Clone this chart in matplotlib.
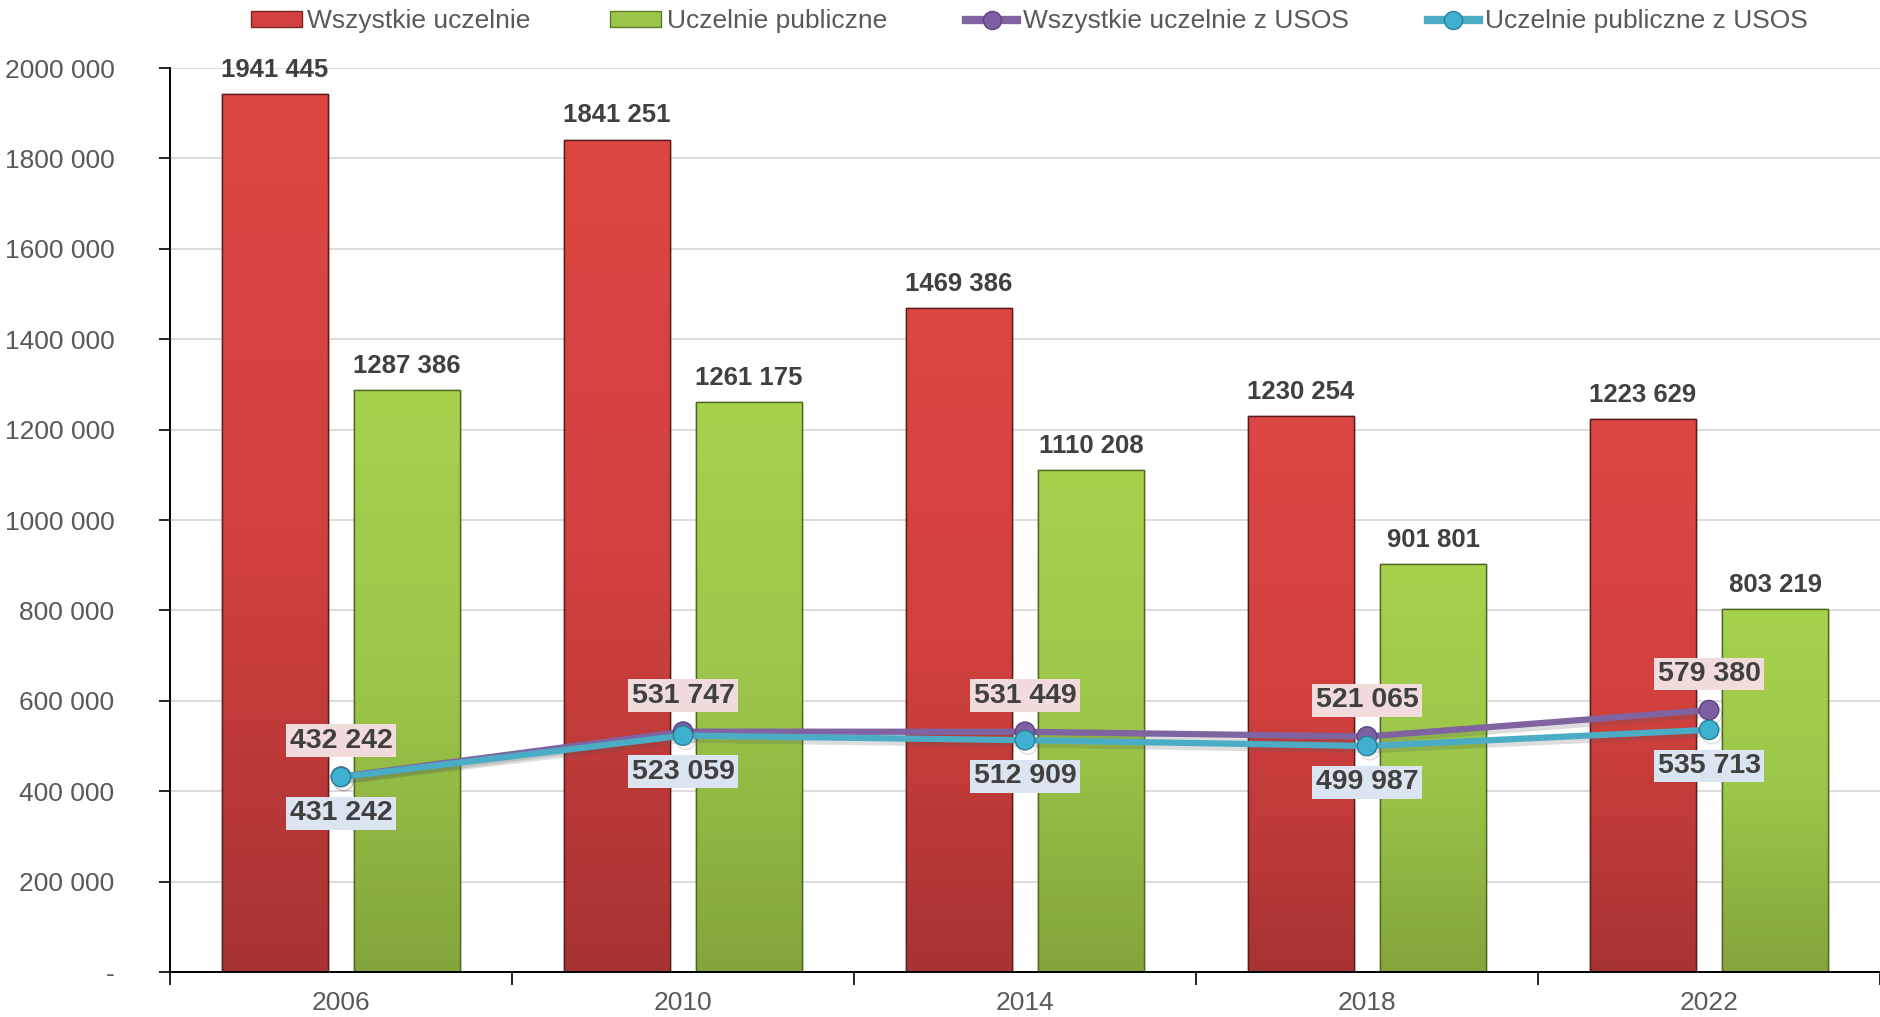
import matplotlib
matplotlib.use('Agg')
import matplotlib.pyplot as plt
import numpy as np
from matplotlib.colors import LinearSegmentedColormap
from matplotlib.lines import Line2D
from matplotlib.patches import Patch
import matplotlib.patheffects as pe

years = ['2006', '2010', '2014', '2018', '2022']
all_unis = [1941445, 1841251, 1469386, 1230254, 1223629]
public_unis = [1287386, 1261175, 1110208, 901801, 803219]
all_usos = [432242, 531747, 531449, 521065, 579380]
public_usos = [431242, 523059, 512909, 499987, 535713]
series_names = ['Wszystkie uczelnie', 'Uczelnie publiczne',
                'Wszystkie uczelnie z USOS', 'Uczelnie publiczne z USOS']
y_ticks = list(range(0, 2000001, 200000))


def fmt(v):
    if v == 0:
        return '-'
    return f"{v // 1000} {v % 1000:03d}"


plt.rcParams['font.family'] = ['Liberation Sans', 'DejaVu Sans']

W, H = 1881, 1017
fig = plt.figure(figsize=(W / 100, H / 100), dpi=100)
ax = fig.add_axes([170 / W, 45 / H, 1 - 170 / W - 0.0005, 904 / H])

x = np.arange(len(years))
bw = 0.312
off = 0.193

red_cmap = LinearSegmentedColormap.from_list('r', ['#a83333', '#d2413e', '#dc4643'])
green_cmap = LinearSegmentedColormap.from_list('g', ['#84a53b', '#9cc649', '#a6d24e'])

bars1 = ax.bar(x - off, all_unis, bw, color='#d2413e', edgecolor='#5a1a1a',
               linewidth=1.0, zorder=2)
bars2 = ax.bar(x + off, public_unis, bw, color='#9cc649', edgecolor='#4f6620',
               linewidth=1.0, zorder=2)

grad = np.linspace(0, 1, 256).reshape(-1, 1)
for bars, cmap in ((bars1, red_cmap), (bars2, green_cmap)):
    for p in bars:
        bx, by, bwid, bh = p.get_x(), p.get_y(), p.get_width(), p.get_height()
        im = ax.imshow(grad, extent=[bx, bx + bwid, by, by + bh], origin='lower',
                       aspect='auto', cmap=cmap, zorder=2.1, interpolation='bilinear')
        im.set_clip_path(p)
        ax.bar(bx + bwid / 2, bh, bwid, bottom=by, fill=False,
               edgecolor=p.get_edgecolor(), linewidth=1.0, zorder=2.2)

shadow = [pe.SimpleLineShadow(offset=(2, -3), alpha=0.2, shadow_color='#555555'), pe.Normal()]
ax.plot(x, all_usos, color='#8064a2', lw=4.5, marker='o', ms=14,
        mfc='#7d5fa3', mec='#5e4482', mew=1, zorder=4, path_effects=shadow)
ax.plot(x, public_usos, color='#4bacc6', lw=4.5, marker='o', ms=14,
        mfc='#3fb0cf', mec='#2a7f97', mew=1, zorder=5, path_effects=shadow)

for xi, v in zip(x - off, all_unis):
    ax.annotate(fmt(v), (xi, v), xytext=(0, 17.5), textcoords='offset points',
                ha='center', va='center', fontsize=18.5, fontweight='bold',
                color='#404040', zorder=6)
for xi, v in zip(x + off, public_unis):
    ax.annotate(fmt(v), (xi, v), xytext=(0, 17.5), textcoords='offset points',
                ha='center', va='center', fontsize=18.5, fontweight='bold',
                color='#404040', zorder=6)
for xi, v in zip(x, all_usos):
    ax.annotate(fmt(v), (xi, v), xytext=(0, 26), textcoords='offset points',
                ha='center', va='center', fontsize=20.5, fontweight='bold',
                color='#404040', zorder=7,
                bbox=dict(boxstyle='square,pad=0.12', fc='#f2dcdb', ec='none'))
for xi, v in zip(x, public_usos):
    ax.annotate(fmt(v), (xi, v), xytext=(0, -26), textcoords='offset points',
                ha='center', va='center', fontsize=20.5, fontweight='bold',
                color='#404040', zorder=7,
                bbox=dict(boxstyle='square,pad=0.12', fc='#dbe5f1', ec='none'))

ax.set_xlim(-0.5, len(years) - 0.5)
ax.set_ylim(0, 2000000)
ax.set_yticks(y_ticks)
ax.set_yticklabels([fmt(v) for v in y_ticks])
ax.tick_params(axis='y', length=8, width=1.2, pad=32, labelcolor='#595959',
               labelsize=19, direction='out', color='black')
ax.set_xticks(np.arange(-0.5, len(years), 1))
ax.set_xticklabels([])
ax.set_xticks(x, minor=True)
ax.set_xticklabels(years, minor=True)
ax.tick_params(axis='x', which='major', length=9, width=1.2, direction='out', color='black')
ax.tick_params(axis='x', which='minor', length=0, pad=14, labelcolor='#595959',
               labelsize=19)

ax.yaxis.grid(True, color='#d9d9d9', lw=1.3)
ax.set_axisbelow(True)
for s in ('top', 'right'):
    ax.spines[s].set_visible(False)
for s in ('left', 'bottom'):
    ax.spines[s].set_color('black')
    ax.spines[s].set_linewidth(1.4)

handles = [
    Patch(facecolor='#d2413e', edgecolor='#7a2626'),
    Patch(facecolor='#9cc649', edgecolor='#5f7a27'),
    Line2D([0], [0], color='#8064a2', lw=6, marker='o', ms=13, mfc='#7d5fa3', mec='#5e4482'),
    Line2D([0], [0], color='#4bacc6', lw=6, marker='o', ms=13, mfc='#3fb0cf', mec='#2a7f97'),
]
fig.legend(handles, series_names, loc='center', bbox_to_anchor=(0.547, 0.979),
           ncol=4, frameon=False, fontsize=19, handlelength=1.95, handleheight=0.55,
           handletextpad=0.2, columnspacing=3.0, labelcolor='#595959',
           borderaxespad=0, borderpad=0)

fig.savefig('out.png', dpi=100)
